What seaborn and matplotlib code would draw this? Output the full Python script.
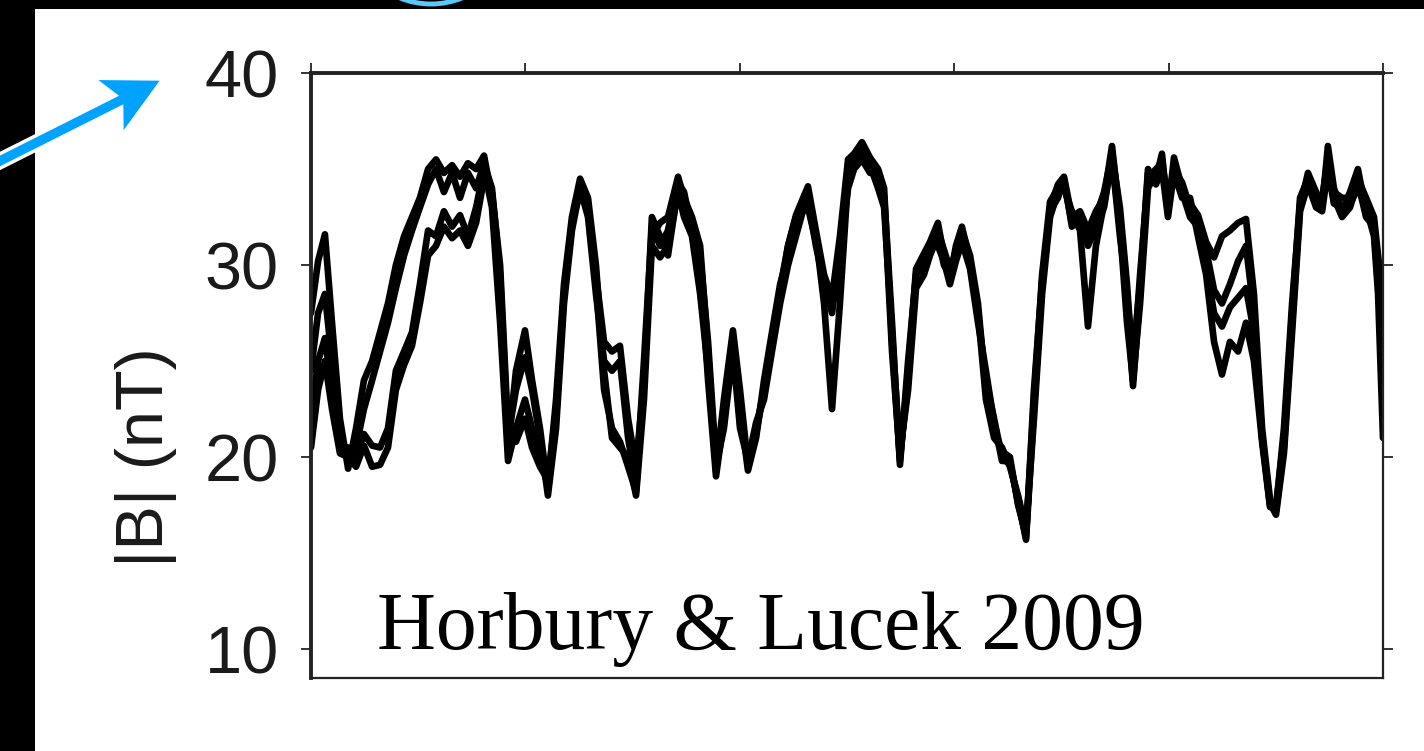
import numpy as np
import pandas as pd
import matplotlib
matplotlib.use("Agg")
import matplotlib.pyplot as plt
import seaborn as sns
from matplotlib.patches import Rectangle, Arc, FancyArrow
from matplotlib.transforms import IdentityTransform

# ---- data: four overlapping |B| traces (nT) against time ----
t = [0.000, 0.033, 0.065, 0.098, 0.135, 0.173, 0.210, 0.247, 0.285, 0.322,
     0.359, 0.396, 0.434, 0.471, 0.508, 0.546, 0.583, 0.620, 0.658, 0.695,
     0.732, 0.770, 0.807, 0.844, 0.882, 0.919, 0.956, 0.998, 1.031, 1.068,
     1.105, 1.143, 1.180, 1.217, 1.255, 1.292, 1.329, 1.367, 1.404, 1.441,
     1.479, 1.516, 1.553, 1.590, 1.628, 1.665, 1.712, 1.740, 1.777, 1.815,
     1.852, 1.889, 1.926, 1.968, 2.001, 2.038, 2.076, 2.113, 2.150, 2.188,
     2.225, 2.262, 2.318, 2.355, 2.393, 2.430, 2.467, 2.505, 2.533, 2.570,
     2.607, 2.645, 2.673, 2.710, 2.747, 2.785, 2.822, 2.859, 2.887, 2.924,
     2.952, 2.980, 3.008, 3.036, 3.074, 3.111, 3.148, 3.186, 3.223, 3.260,
     3.298, 3.335, 3.372, 3.410, 3.447, 3.484, 3.512, 3.549, 3.587, 3.624,
     3.661, 3.699, 3.736, 3.773, 3.806, 3.834, 3.867, 3.904, 3.941, 3.969,
     3.997, 4.025, 4.063, 4.100, 4.137, 4.175, 4.212, 4.249, 4.286, 4.324,
     4.361, 4.398, 4.436, 4.473, 4.501, 4.538, 4.576, 4.613, 4.650, 4.688,
     4.716, 4.743, 4.771, 4.809, 4.846, 4.883, 4.921, 4.958, 4.977, 5.000]

b_trace1 = [27.5, 30.2, 31.6, 27.0, 22.0, 19.4, 21.5, 24.0, 25.0, 26.5,
            28.0, 30.0, 31.5, 32.5, 33.5, 35.0, 35.5, 34.8, 35.2, 34.6,
            35.3, 35.0, 35.7, 33.5, 28.0, 20.5, 24.5, 26.6, 24.0, 21.5,
            18.3, 22.0, 28.5, 32.0, 34.3, 33.0, 29.5, 26.0, 25.5, 25.8,
            22.0, 19.5, 24.0, 31.5, 32.2, 32.5, 34.6, 33.5, 32.5, 31.0,
            25.5, 19.3, 23.0, 26.6, 23.5, 19.6, 21.5, 23.5, 26.0, 28.5,
            31.0, 32.6, 34.1, 31.8, 29.5, 28.3, 31.5, 35.5, 35.8, 36.4,
            35.6, 35.0, 34.0, 26.0, 19.8, 24.5, 29.8, 30.6, 31.2, 32.2,
            30.5, 29.3, 31.0, 32.0, 30.2, 27.5, 24.0, 22.0, 20.0, 19.6,
            17.8, 15.7, 22.5, 29.0, 33.0, 34.2, 34.6, 32.5, 32.8, 31.8,
            32.8, 33.5, 36.2, 32.5, 28.0, 23.7, 28.5, 34.8, 34.5, 35.8,
            32.7, 35.6, 34.0, 33.2, 32.6, 31.2, 30.4, 31.5, 31.8, 32.2,
            32.4, 28.5, 21.5, 17.8, 17.2, 20.5, 27.0, 33.0, 34.8, 33.8,
            33.0, 36.2, 34.0, 32.8, 33.8, 35.0, 32.8, 31.8, 29.0, 26.6]

b_trace2 = [24.5, 27.5, 28.5, 25.0, 21.0, 19.8, 20.5, 22.5, 24.0, 25.5,
            27.0, 28.8, 30.5, 31.8, 33.0, 34.2, 35.0, 33.8, 34.8, 33.5,
            34.8, 34.0, 35.3, 34.0, 29.5, 21.0, 23.5, 25.2, 23.5, 21.0,
            18.0, 21.5, 28.0, 31.8, 34.0, 32.5, 28.5, 25.0, 24.5, 25.0,
            21.0, 18.5, 25.0, 32.0, 31.0, 31.8, 34.3, 33.8, 31.8, 30.0,
            24.0, 19.0, 22.0, 25.8, 22.5, 19.3, 21.0, 24.0, 26.5, 29.0,
            30.5, 32.0, 33.5, 31.0, 29.0, 28.0, 31.0, 35.0, 35.2, 36.0,
            35.5, 34.5, 33.5, 25.5, 20.0, 24.0, 29.5, 30.2, 30.8, 31.8,
            30.8, 29.8, 30.5, 31.8, 30.5, 28.0, 23.5, 21.5, 20.3, 20.0,
            17.5, 16.0, 23.0, 29.5, 33.3, 34.0, 34.3, 32.2, 32.0, 31.5,
            32.5, 33.8, 35.8, 33.0, 29.0, 24.5, 29.5, 34.5, 35.0, 35.3,
            33.2, 35.0, 34.3, 33.0, 32.3, 30.8, 28.7, 28.0, 29.0, 30.2,
            31.0, 27.5, 21.0, 17.5, 17.5, 21.0, 27.5, 33.5, 34.5, 33.5,
            33.5, 35.5, 33.8, 33.5, 33.5, 34.5, 33.5, 32.5, 30.5, 28.0]

b_trace3 = [22.0, 25.0, 26.2, 23.5, 20.6, 20.5, 20.0, 21.2, 20.6, 20.5,
            21.5, 24.5, 25.5, 26.5, 29.0, 31.8, 31.5, 32.8, 32.0, 32.6,
            31.5, 33.0, 35.0, 33.0, 27.0, 19.8, 21.5, 23.0, 21.5, 20.0,
            18.5, 23.0, 29.0, 32.5, 34.5, 33.5, 30.0, 24.5, 21.0, 20.5,
            20.0, 18.0, 23.0, 31.0, 30.4, 31.0, 33.8, 32.5, 31.5, 28.5,
            24.5, 19.5, 21.5, 25.5, 21.5, 19.8, 21.8, 23.0, 25.5, 28.0,
            30.0, 31.5, 33.8, 31.5, 28.0, 22.5, 28.0, 34.5, 35.5, 35.8,
            35.2, 34.0, 33.0, 26.5, 20.2, 23.5, 28.8, 29.5, 30.5, 31.5,
            30.0, 29.5, 30.8, 31.5, 30.0, 27.5, 23.0, 21.0, 20.5, 19.5,
            18.0, 16.2, 22.0, 28.5, 32.5, 33.8, 34.0, 32.8, 31.8, 26.8,
            31.0, 33.2, 35.5, 32.0, 27.0, 24.0, 28.0, 34.0, 34.8, 35.5,
            33.0, 35.2, 33.8, 32.5, 32.0, 30.0, 27.5, 26.8, 27.8, 28.3,
            28.8, 26.5, 21.0, 17.6, 17.0, 20.2, 26.5, 32.8, 34.2, 33.0,
            32.8, 35.0, 33.2, 33.0, 33.2, 34.0, 33.0, 31.5, 28.5, 21.0]

b_trace4 = [20.5, 23.5, 25.0, 22.5, 20.2, 20.0, 19.5, 20.6, 19.5, 19.6,
            20.5, 23.5, 24.8, 25.8, 28.0, 30.5, 31.0, 32.0, 31.4, 31.8,
            31.0, 32.2, 34.5, 33.8, 30.0, 21.5, 20.8, 22.0, 20.5, 19.5,
            18.8, 22.5, 28.5, 32.2, 33.8, 33.0, 29.0, 23.5, 21.5, 20.8,
            19.5, 18.2, 24.0, 32.5, 31.5, 30.5, 34.0, 33.0, 32.0, 30.5,
            26.0, 19.8, 22.5, 26.0, 22.0, 20.0, 21.2, 23.5, 26.0, 28.8,
            31.0, 32.5, 33.0, 31.2, 29.2, 27.5, 30.5, 34.0, 35.0, 35.5,
            34.8, 34.8, 33.6, 27.0, 19.6, 25.0, 29.5, 30.0, 31.0, 31.0,
            30.2, 29.0, 30.2, 31.2, 29.8, 27.0, 24.5, 21.8, 19.8, 19.8,
            17.6, 15.8, 23.5, 29.2, 32.8, 33.5, 34.5, 32.0, 32.5, 31.0,
            32.0, 33.0, 35.6, 31.5, 28.5, 25.0, 29.0, 35.0, 34.2, 35.0,
            32.5, 34.8, 33.5, 33.5, 31.5, 29.5, 26.0, 24.3, 26.0, 25.5,
            27.0, 25.0, 20.8, 17.4, 17.3, 21.5, 28.0, 33.2, 34.6, 33.5,
            33.2, 35.2, 33.5, 32.5, 33.0, 34.3, 32.5, 32.0, 30.0, 23.0]

y_ticks = [10, 20, 30, 40]
y_label = "|B| (nT)"
citation = "Horbury & Lucek 2009"

traces = [b_trace1, b_trace2, b_trace3, b_trace4]
df = pd.DataFrame({
    "t": np.tile(t, len(traces)),
    "B": np.concatenate(traces),
    "trace": np.repeat([f"s{i + 1}" for i in range(len(traces))], len(t)),
})

# ---- figure ----
sns.set_theme(style="white")
plt.rcParams["font.family"] = ["Liberation Sans", "DejaVu Sans"]

W, H = 1424, 751
fig = plt.figure(figsize=(W / 100, H / 100), dpi=100, facecolor="black")

# white slide panel on the dark frame
fig.add_artist(Rectangle((35 / W, 0), 1 - 35 / W, 1 - 9 / H,
                         transform=fig.transFigure, facecolor="white",
                         edgecolor="none", zorder=-10))

ax = fig.add_axes([311 / W, 1 - 678 / H, (1383 - 311) / W, (678 - 73) / H])
ax.set_facecolor("white")

sns.lineplot(data=df, x="t", y="B", hue="trace",
             palette=["black"] * len(traces), estimator=None, sort=False,
             legend=False, linewidth=4.8, ax=ax)
for line in ax.lines:
    line.set_solid_joinstyle("round")
    line.set_solid_capstyle("round")

ax.set_xlim(0, 5)
ax.set_ylim(8.5, 40)
ax.set_xticks(range(6))
ax.set_yticks(y_ticks)
ax.set_xlabel("")
ax.set_ylabel(y_label, fontsize=48, color="#1a1a1a")
ax.yaxis.set_label_coords(-0.125, 0.3645)

ax.tick_params(axis="y", left=True, right=True, labelleft=True,
               labelright=False, direction="out", length=7, width=1.4,
               color="#333333", labelsize=48, labelcolor="#1a1a1a", pad=16)
ax.tick_params(axis="x", top=True, bottom=False, labeltop=False,
               labelbottom=False, direction="out", length=7, width=1.4,
               color="#333333")

for side, lw in (("top", 2.8), ("left", 2.8), ("bottom", 1.6), ("right", 1.6)):
    ax.spines[side].set_visible(True)
    ax.spines[side].set_linewidth(lw)
    ax.spines[side].set_color("#222222")

ax.text(0.0616, 0.048, citation, transform=ax.transAxes,
        fontfamily="Liberation Serif", fontsize=58.7, ha="left",
        va="baseline", color="black")

# blue pointer arrow and arc on the frame
fig.add_artist(FancyArrow(-20, H - 171, 183, 92, width=13, head_width=64,
                          head_length=62, overhang=0.2,
                          length_includes_head=True,
                          transform=IdentityTransform(),
                          facecolor="#00A2FF", edgecolor="white",
                          linewidth=2.5, zorder=20))
fig.add_artist(Arc((431, H + 79), 166, 166, theta1=180, theta2=360,
                   transform=IdentityTransform(), color="#5AC8FA",
                   linewidth=3.5, zorder=20))

fig.savefig("out.png", dpi=100, facecolor=fig.get_facecolor())
